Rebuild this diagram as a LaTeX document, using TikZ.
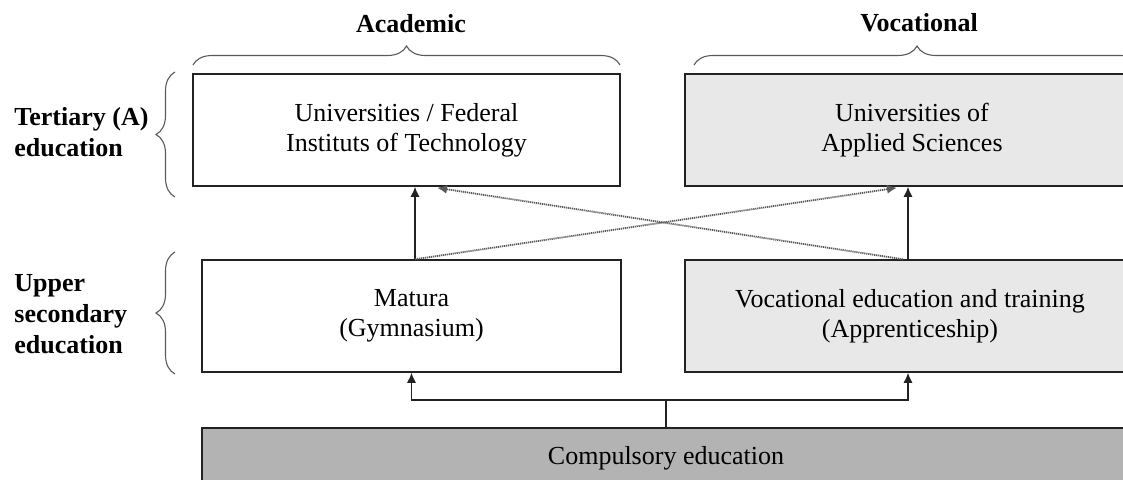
\documentclass[tikz,border=0pt]{standalone}
\usepackage{fontspec}
\setmainfont{Liberation Serif}
\usetikzlibrary{decorations.pathreplacing,arrows.meta}
\definecolor{vgray}{HTML}{E8E8E8}
\definecolor{cgray}{HTML}{B3B3B3}
\definecolor{edge}{HTML}{222222}
\begin{document}
\begin{tikzpicture}[x=0.5pt,y=-0.5pt,
  box/.style={draw=edge, line width=0.75pt, minimum height=56pt, inner sep=0pt, align=center, font=\fontsize{13}{15}\selectfont},
  lab/.style={anchor=west, align=left, inner sep=0pt, font=\fontsize{13}{15.5}\selectfont\bfseries},
  ttl/.style={inner sep=0pt, font=\fontsize{13}{15}\selectfont\bfseries},
  br/.style={draw=black!65, line width=0.55pt, decorate, decoration={brace, amplitude=9.5pt}},
  arr/.style={draw=edge, line width=0.65pt, -{Latex[length=5pt,width=4.5pt]}},
  darr/.style={draw=black!65, line width=0.9pt, dash pattern=on 0.6pt off 0.4pt, -{Latex[length=5pt,width=4.5pt]}},
  ln/.style={draw=edge, line width=0.65pt}
]
\useasboundingbox (0,0) rectangle (1123,479);
\clip (0,0) rectangle (1123,479);

% boxes
\node[box, fill=white, minimum width=213.5pt] (A) at (406.5,130) {Universities / Federal\\Instituts of Technology};
\node[box, fill=vgray, minimum width=227pt] (V) at (912,130) {Universities of\\Applied Sciences};
\node[box, fill=white, minimum width=209.5pt] (M) at (411.5,316) {Matura\\(Gymnasium)};
\node[box, fill=vgray, minimum width=225pt] (T) at (910,316) {Vocational education and training\\(Apprenticeship)};
\node[box, fill=cgray, minimum width=464pt, minimum height=30pt] (C) at (666,458) {Compulsory education};

% titles and labels
\node[ttl] (acad) at (411,24) {Academic};
\node[ttl] (voc) at (919,23) {Vocational};
\node[lab] (tert) at (14,132) {Tertiary (A)\\education};
\node[lab] (upper) at (14,314) {Upper\\secondary\\education};

% braces
\draw[br] (193,65) -- (620,65);
\draw[br] (694,65) -- (1140,65);
\draw[br] (175,197) -- (175,72);
\draw[br] (175,374) -- (175,252);

% connector x positions
\coordinate (xl) at (415,0);
\coordinate (xr) at (908,0);
\coordinate (dl) at (437,0);
\coordinate (dr) at (897,0);
\coordinate (dm) at (903,0);
\coordinate (j) at (666,400);

% arrows between levels
\draw[arr] (xl |- M.north) -- (xl |- A.south);
\draw[arr] (xr |- T.north) -- (xr |- V.south);
\draw[darr] (xl |- M.north) -- ([yshift=-0.5pt]dr |- V.south);
\draw[darr] (dm |- T.north) -- ([yshift=-0.5pt]dl |- A.south);

% from compulsory education
\draw[ln] (C.north) -- (j);
\draw[arr] (j) -| (M.south);
\draw[arr] (j) -| (xr |- T.south);
\end{tikzpicture}
\end{document}
